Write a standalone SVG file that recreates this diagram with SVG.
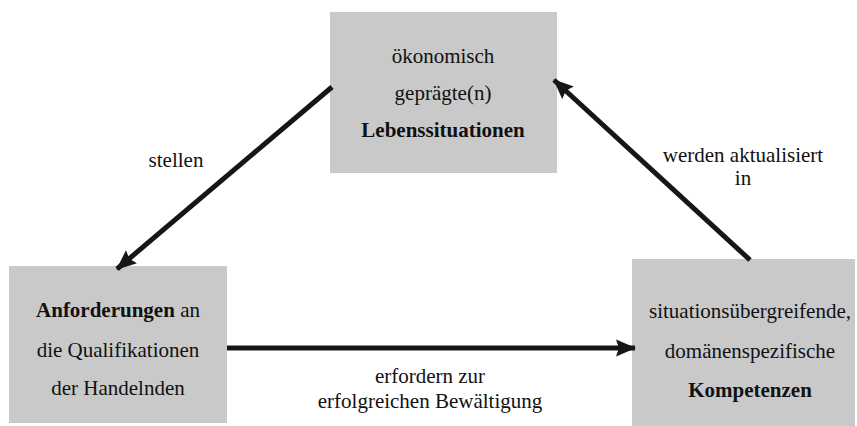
<svg xmlns="http://www.w3.org/2000/svg" width="857" height="426" viewBox="0 0 857 426">
<defs>
<style>
.box{fill:#c9c9c9;}
.t{font-family:"Liberation Serif","Times New Roman",serif;font-size:21px;fill:#111;text-anchor:middle;}
.b{font-weight:bold;}
.c{stroke:#161616;stroke-width:5;fill:none;}
</style>
<marker id="ah" markerUnits="userSpaceOnUse" markerWidth="22" markerHeight="18" refX="19" refY="8.5" orient="auto" viewBox="0 0 22 17">
<path d="M0,0 L20,8.5 L0,17 L3,8.5 Z" fill="#161616"/>
</marker>
</defs>
<rect width="857" height="426" fill="#fff"/>
<g id="lebenssituationen">
<rect class="box" x="330" y="12" width="227" height="161"/>
<text class="t" x="443" y="63">ökonomisch</text>
<text class="t" x="443" y="100">geprägte(n)</text>
<text class="t b" x="443" y="137">Lebenssituationen</text>
</g>
<g id="anforderungen">
<rect class="box" x="9" y="266" width="218" height="157"/>
<text class="t" x="118" y="317"><tspan class="b">Anforderungen</tspan> an</text>
<text class="t" x="118" y="357">die Qualifikationen</text>
<text class="t" x="118" y="395">der Handelnden</text>
</g>
<g id="kompetenzen">
<rect class="box" x="632" y="259" width="223" height="167"/>
<text class="t" x="750" y="318">situationsübergreifende,</text>
<text class="t" x="750" y="358">domänenspezifische</text>
<text class="t b" x="750" y="397">Kompetenzen</text>
</g>
<g id="connectors">
<line class="c" x1="332" y1="87" x2="117" y2="269" marker-end="url(#ah)"/>
<line class="c" x1="750" y1="260" x2="554" y2="80" marker-end="url(#ah)"/>
<line class="c" x1="227" y1="348" x2="635" y2="348" marker-end="url(#ah)"/>
<text class="t" x="176" y="167">stellen</text>
<text class="t" x="743" y="162">werden aktualisiert</text>
<text class="t" x="743" y="185">in</text>
<text class="t" x="430" y="383">erfordern zur</text>
<text class="t" x="430" y="408">erfolgreichen Bewältigung</text>
</g>
</svg>
